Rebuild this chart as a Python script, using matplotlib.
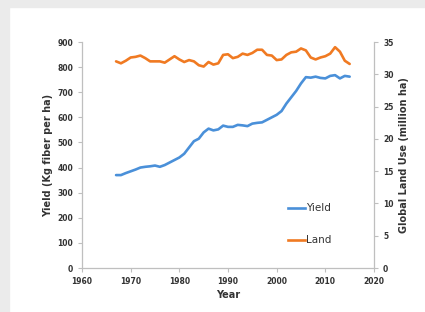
import matplotlib
matplotlib.use("Agg")
import matplotlib.pyplot as plt
import numpy as np
from matplotlib.patches import Rectangle

years = list(range(1967, 2016))
yield_kg = [370, 370, 378, 385, 392, 400, 403, 405, 408, 403,
            410, 420, 430, 440, 455, 480, 505, 515, 540, 555,
            548, 552, 567, 562, 562, 570, 568, 565, 575, 578,
            580, 590, 600, 610, 625, 655, 680, 705, 735, 760,
            758, 762, 757, 755, 765, 768, 755, 765, 762]
land_mha = [32.0, 31.7, 32.1, 32.6, 32.7, 32.9, 32.5, 32.0, 32.0, 32.0,
            31.8, 32.3, 32.8, 32.3, 31.9, 32.2, 32.0, 31.4, 31.2, 31.9,
            31.5, 31.7, 33.0, 33.1, 32.5, 32.7, 33.2, 33.0, 33.3, 33.8,
            33.8, 33.0, 32.9, 32.2, 32.3, 33.0, 33.4, 33.5, 34.0, 33.7,
            32.6, 32.3, 32.6, 32.8, 33.2, 34.2, 33.5, 32.1, 31.6]

W, H = 425, 312
fig = plt.figure(figsize=(W / 100, H / 100), dpi=100)
fig.patch.set_facecolor("white")
grey = "#ebebeb"
fig.patches.append(Rectangle((0, 0), 9 / W, 1, transform=fig.transFigure, color=grey, zorder=-10))
fig.patches.append(Rectangle((0, 1 - 7 / H), 1, 7 / H, transform=fig.transFigure, color=grey, zorder=-10))

x0, x1 = 82, 374
y0, y1 = 42, 268
ax = fig.add_axes([x0 / W, 1 - y1 / H, (x1 - x0) / W, (y1 - y0) / H])
ax2 = ax.twinx()

blue = "#4a90d9"
orange = "#f07a22"
tc = "#333333"
sc = "#bfbfbf"

ax.plot(years, yield_kg, color=blue, lw=1.9, solid_capstyle="round")
ax2.plot(years, land_mha, color=orange, lw=1.9, solid_capstyle="round")

ax.set_xlim(1960, 2020)
ax.set_ylim(0, 900)
ax2.set_ylim(0, 35)
ax.set_xticks(range(1960, 2021, 10))
ax.set_yticks(range(0, 901, 100))
ax2.set_yticks(range(0, 36, 5))

for a in (ax, ax2):
    a.patch.set_alpha(0)
    for s in a.spines.values():
        s.set_color(sc)
        s.set_linewidth(0.9)
    a.spines["top"].set_visible(False)
    a.tick_params(colors=sc, labelcolor=tc, labelsize=5.5, length=3, width=0.8)
ax.spines["right"].set_visible(False)
ax2.spines["left"].set_visible(False)
ax2.spines["bottom"].set_visible(False)

for lbl in ax.get_xticklabels() + ax.get_yticklabels() + ax2.get_yticklabels():
    lbl.set_fontweight("bold")

ax.set_xlabel("Year", fontsize=7, fontweight="bold", color=tc, labelpad=3)
ax.set_ylabel("Yield (Kg fiber per ha)", fontsize=7, fontweight="bold", color=tc, labelpad=3)
ax2.set_ylabel("Global Land Use (million ha)", fontsize=7, fontweight="bold", color=tc, labelpad=4)

# legend entries
ax.plot([2002.3, 2005.9], [239, 239], color=blue, lw=1.9)
ax.text(2006.0, 239, "Yield", fontsize=7.5, color=tc, va="center", ha="left")
ax.plot([2002.3, 2005.9], [111, 111], color=orange, lw=1.9)
ax.text(2006.0, 111, "Land", fontsize=7.5, color=tc, va="center", ha="left")

fig.savefig("out.png", dpi=100)
